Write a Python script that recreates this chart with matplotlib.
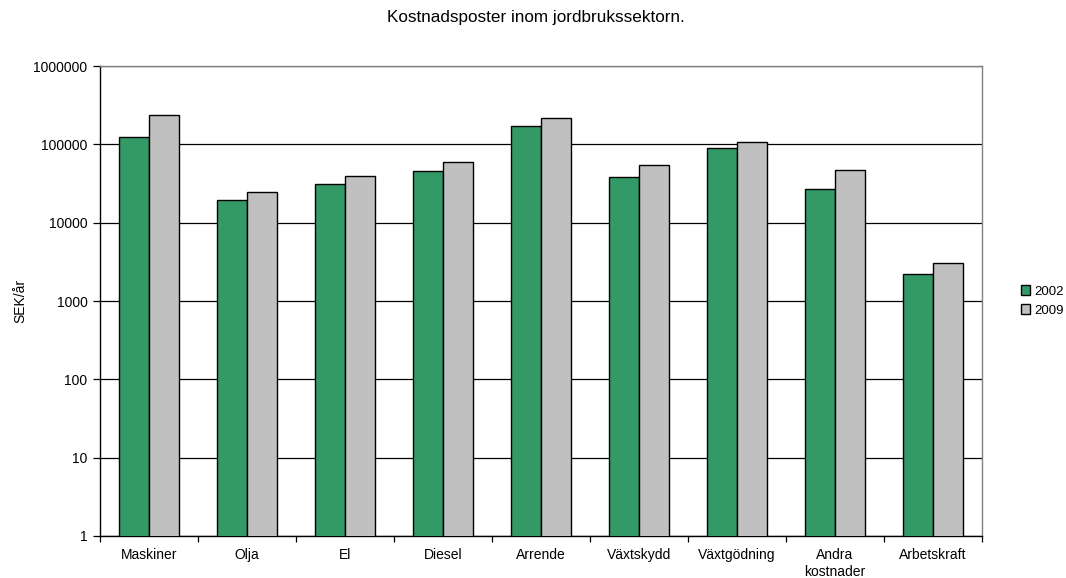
import numpy as np
import matplotlib
matplotlib.use('Agg')
import matplotlib.pyplot as plt
from matplotlib.ticker import FixedLocator, NullLocator, FixedFormatter

plt.rcParams['font.family'] = ['Liberation Sans', 'DejaVu Sans']

categories = ['Maskiner', 'Olja', 'El', 'Diesel', 'Arrende', 'Växtskydd',
              'Växtgödning', 'Andra\nkostnader', 'Arbetskraft']
values_2002 = [123000, 19300, 30800, 45200, 169500, 38500, 90200, 27100, 2210]
values_2009 = [236000, 24800, 39400, 58800, 216000, 54300, 108000, 46500, 3050]
series_names = ['2002', '2009']
y_ticks = [1, 10, 100, 1000, 10000, 100000, 1000000]
y_labels = ['1', '10', '100', '1000', '10000', '100000', '1000000']

green = '#339966'
gray = '#c0c0c0'

fig = plt.figure(figsize=(10.66, 5.78), dpi=100)
ax = fig.add_axes([0.0938, 0.0727, 0.827, 0.813])

x = np.arange(len(categories))
w = 0.306
ax.bar(x - w / 2, values_2002, w, color=green, edgecolor='black', linewidth=1.0,
       label=series_names[0], zorder=3)
ax.bar(x + w / 2, values_2009, w, color=gray, edgecolor='black', linewidth=1.0,
       label=series_names[1], zorder=3)

ax.set_yscale('log')
ax.set_ylim(1, 1000000)
ax.set_xlim(-0.5, len(categories) - 0.5)
ax.yaxis.set_major_locator(FixedLocator(y_ticks))
ax.yaxis.set_major_formatter(FixedFormatter(y_labels))
ax.yaxis.set_minor_locator(NullLocator())
ax.grid(axis='y', color='black', linewidth=0.9, zorder=0)

# category labels centred, ticks on the boundaries
ax.set_xticks(x)
ax.set_xticklabels(categories, fontsize=10, linespacing=1.25)
ax.tick_params(axis='x', which='major', length=0, pad=9)
ax.set_xticks(np.arange(len(categories) + 1) - 0.5, minor=True)
ax.tick_params(axis='x', which='minor', length=4, width=0.9, color='black')
ax.tick_params(axis='y', length=5, width=0.9, labelsize=10, pad=4)

for side in ['top', 'right']:
    ax.spines[side].set_color('#808080')
    ax.spines[side].set_linewidth(1.0)
for side in ['left', 'bottom']:
    ax.spines[side].set_color('black')
    ax.spines[side].set_linewidth(1.0)

ax.set_ylabel('SEK/år', fontsize=10, labelpad=4)
fig.text(0.503, 0.970, 'Kostnadsposter inom jordbrukssektorn.', ha='center',
         va='center', fontsize=12.3)

leg = ax.legend(loc='center left', bbox_to_anchor=(1.0, 0.5), frameon=False,
                fontsize=9.5, handlelength=0.7, handleheight=0.7,
                handletextpad=0.3, labelspacing=0.5, borderaxespad=2.6)

fig.savefig('out.png', dpi=100)
